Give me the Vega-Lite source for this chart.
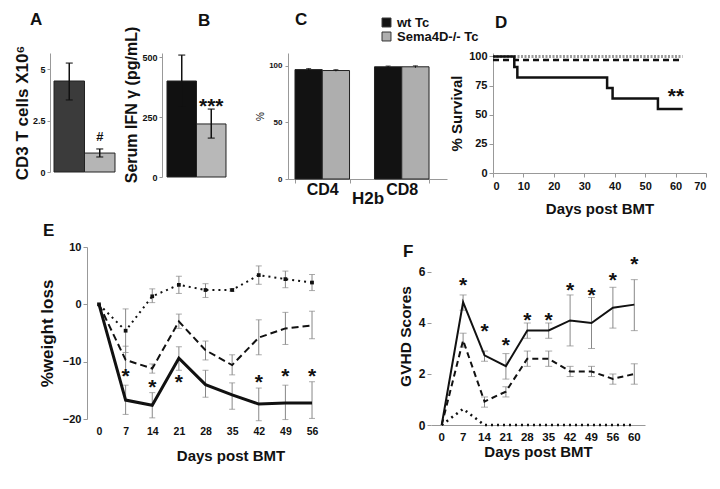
{
  "$schema": "https://vega.github.io/schema/vega-lite/v6.json",
  "autosize": {"type": "pad"},
  "padding": {"left": 13, "top": 10, "right": 5, "bottom": 5},
  "background": "white",
  "spacing": 5,
  "datasets": {
    "survWt": [{"day":0,"pct":100},{"day":7,"pct":91},{"day":8,"pct":82},{"day":37.5,"pct":73},{"day":39.3,"pct":64},{"day":54.2,"pct":55},{"day":62.3,"pct":55}],
    "survKo": [{"day":0,"pct":97},{"day":62.3,"pct":97}],
    "survCtrl": [{"day":0,"pct":100},{"day":62.3,"pct":100}],
    "weight": [
      {"day":0,"series":"wt","value":0},
      {"day":7,"series":"wt","value":-16.7,"lo":-19.2,"hi":-14.1},
      {"day":14,"series":"wt","value":-17.6,"lo":-19.8,"hi":-15.4},
      {"day":21,"series":"wt","value":-9.4,"lo":-11.5,"hi":-7.4},
      {"day":28,"series":"wt","value":-14.0,"lo":-16.2,"hi":-11.5},
      {"day":35,"series":"wt","value":-15.8,"lo":-18.3,"hi":-13.7},
      {"day":42,"series":"wt","value":-17.4,"lo":-20.3,"hi":-14.6},
      {"day":49,"series":"wt","value":-17.2,"lo":-20.1,"hi":-14.1},
      {"day":56,"series":"wt","value":-17.2,"lo":-19.9,"hi":-13.5},
      {"day":0,"series":"ko","value":0},
      {"day":7,"series":"ko","value":-9.7,"lo":-12.3,"hi":-7.3},
      {"day":14,"series":"ko","value":-11.2,"lo":-12.0,"hi":-10.4},
      {"day":21,"series":"ko","value":-3.0,"lo":-4.2,"hi":-1.7},
      {"day":28,"series":"ko","value":-8.0,"lo":-9.7,"hi":-6.4},
      {"day":35,"series":"ko","value":-10.6,"lo":-12.3,"hi":-8.8},
      {"day":42,"series":"ko","value":-5.8,"lo":-8.8,"hi":-2.7},
      {"day":49,"series":"ko","value":-4.2,"lo":-7.0,"hi":-1.4},
      {"day":56,"series":"ko","value":-3.7,"lo":-6.0,"hi":-1.2},
      {"day":0,"series":"ctrl","value":0},
      {"day":7,"series":"ctrl","value":-4.6,"lo":-8.4,"hi":-0.8},
      {"day":14,"series":"ctrl","value":1.4,"lo":0.3,"hi":2.7},
      {"day":21,"series":"ctrl","value":3.4,"lo":1.9,"hi":4.9},
      {"day":28,"series":"ctrl","value":2.5,"lo":1.2,"hi":3.6},
      {"day":35,"series":"ctrl","value":2.5,"lo":2.3,"hi":2.7},
      {"day":42,"series":"ctrl","value":5.1,"lo":3.5,"hi":6.7},
      {"day":49,"series":"ctrl","value":4.4,"lo":2.9,"hi":5.8},
      {"day":56,"series":"ctrl","value":3.8,"lo":2.4,"hi":5.2}
    ],
    "weightStars": [{"day":7,"y":-11.7},{"day":14,"y":-13.5},{"day":21,"y":-12.6},{"day":42,"y":-12.6},{"day":49,"y":-11.7},{"day":56,"y":-11.7}],
    "gvhd": [
      {"day":0,"series":"wt","value":0},
      {"day":7,"series":"wt","value":4.82,"lo":4.5,"hi":5.1},
      {"day":14,"series":"wt","value":2.73,"lo":2.5,"hi":2.9},
      {"day":21,"series":"wt","value":2.31,"lo":1.8,"hi":2.8},
      {"day":28,"series":"wt","value":3.71,"lo":3.4,"hi":4.0},
      {"day":35,"series":"wt","value":3.71,"lo":3.4,"hi":4.0},
      {"day":42,"series":"wt","value":4.1,"lo":3.1,"hi":5.1},
      {"day":49,"series":"wt","value":4.0,"lo":3.0,"hi":5.0},
      {"day":56,"series":"wt","value":4.6,"lo":3.8,"hi":5.4},
      {"day":60,"series":"wt","value":4.72,"lo":3.7,"hi":5.7},
      {"day":0,"series":"ko","value":0},
      {"day":7,"series":"ko","value":3.32,"lo":3.05,"hi":3.6},
      {"day":14,"series":"ko","value":0.92,"lo":0.7,"hi":1.1},
      {"day":21,"series":"ko","value":1.31,"lo":1.1,"hi":1.5},
      {"day":28,"series":"ko","value":2.6,"lo":2.3,"hi":2.9},
      {"day":35,"series":"ko","value":2.6,"lo":2.3,"hi":2.9},
      {"day":42,"series":"ko","value":2.1,"lo":1.9,"hi":2.3},
      {"day":49,"series":"ko","value":2.1,"lo":1.9,"hi":2.3},
      {"day":56,"series":"ko","value":1.81,"lo":1.6,"hi":2.0},
      {"day":60,"series":"ko","value":2.0,"lo":1.6,"hi":2.4},
      {"day":0,"series":"ctrl","value":0},
      {"day":7,"series":"ctrl","value":0.63},
      {"day":14,"series":"ctrl","value":0},
      {"day":21,"series":"ctrl","value":0},
      {"day":28,"series":"ctrl","value":0},
      {"day":35,"series":"ctrl","value":0},
      {"day":42,"series":"ctrl","value":0},
      {"day":49,"series":"ctrl","value":0},
      {"day":56,"series":"ctrl","value":0},
      {"day":60,"series":"ctrl","value":0}
    ],
    "gvhdStars": [{"day":7,"y":5.67},{"day":14,"y":3.88},{"day":21,"y":3.32},{"day":28,"y":4.33},{"day":35,"y":4.33},{"day":42,"y":5.48},{"day":49,"y":5.28},{"day":56,"y":5.9},{"day":60,"y":6.49}]
  },
  "vconcat": [
    {
      "hconcat": [
        {
          "width": 66, "height": 119,
          "title": {"text": "A", "dx": -20, "offset": 16.5},
          "data": {"values": [
            {"group":"wt Tc","cells":4.42,"lo":3.5,"hi":5.29},
            {"group":"Sema4D-/- Tc","cells":0.92,"lo":0.73,"hi":1.12}
          ]},
          "encoding": {"x": {"field":"group","type":"nominal","sort":["wt Tc","Sema4D-/- Tc"],"axis":null,"scale":{"paddingInner":0,"paddingOuter":0.082,"align":0.8}}},
          "layer": [
            {"mark": {"type":"bar","stroke":"#222","strokeWidth":1},
             "encoding": {
               "y": {"field":"cells","type":"quantitative","scale":{"domain":[0,5.78],"nice":false},
                     "axis":{"values":[0,2.5,5],"format":".1~f","title":"CD3 T cells X10⁶","titleFontSize":17,"labelFontSize":9,"tickSize":3,"labelPadding":2,"titlePadding":1}},
               "color": {"field":"group","type":"nominal","scale":{"domain":["wt Tc","Sema4D-/- Tc"],"range":["#3b3b3b","#b5b5b5"]},"legend":null}}},
            {"mark": {"type":"rule","color":"#111","strokeWidth":1.5},
             "encoding": {"y":{"field":"lo","type":"quantitative","scale":{"domain":[0,5.78],"nice":false}},"y2":{"field":"hi"}}},
            {"mark": {"type":"tick","orient":"horizontal","color":"#111","size":7,"thickness":1.5},
             "encoding": {"y":{"field":"lo","type":"quantitative","scale":{"domain":[0,5.78],"nice":false}}}},
            {"mark": {"type":"tick","orient":"horizontal","color":"#111","size":7,"thickness":1.5},
             "encoding": {"y":{"field":"hi","type":"quantitative","scale":{"domain":[0,5.78],"nice":false}}}},
            {"data": {"values": [{"group":"Sema4D-/- Tc","pos":1.72,"label":"#"}]},
             "mark": {"type":"text","fontSize":13,"fontWeight":"bold","baseline":"alphabetic","dy":4.5,"color":"#111"},
             "encoding": {"y":{"field":"pos","type":"quantitative","scale":{"domain":[0,5.78],"nice":false}},"text":{"field":"label"}}}
          ]
        },
        {
          "width": 80, "height": 124,
          "title": {"text": "B", "dx": 36, "offset": -3.5},
          "data": {"values": [
            {"group":"wt Tc","ifn":400,"lo":292,"hi":508},
            {"group":"Sema4D-/- Tc","ifn":221,"lo":162,"hi":283}
          ]},
          "encoding": {"x": {"field":"group","type":"nominal","sort":["wt Tc","Sema4D-/- Tc"],"axis":null,"scale":{"paddingInner":0,"paddingOuter":0.356,"align":0.238}}},
          "layer": [
            {"mark": {"type":"bar","stroke":"#222","strokeWidth":1},
             "encoding": {
               "y": {"field":"ifn","type":"quantitative","scale":{"domain":[0,516.7],"nice":false},
                     "axis":{"values":[0,250,500],"title":"Serum IFN γ (pg/mL)","titleFontSize":16,"labelFontSize":9,"tickSize":3,"labelPadding":2,"titlePadding":2,"titleY":51.5}},
               "color": {"field":"group","type":"nominal","scale":{"domain":["wt Tc","Sema4D-/- Tc"],"range":["#111111","#b8b8b8"]},"legend":null}}},
            {"mark": {"type":"rule","color":"#111","strokeWidth":1.5},
             "encoding": {"y":{"field":"lo","type":"quantitative","scale":{"domain":[0,516.7],"nice":false}},"y2":{"field":"hi"}}},
            {"mark": {"type":"tick","orient":"horizontal","color":"#111","size":7,"thickness":1.5},
             "encoding": {"y":{"field":"lo","type":"quantitative","scale":{"domain":[0,516.7],"nice":false}}}},
            {"mark": {"type":"tick","orient":"horizontal","color":"#111","size":7,"thickness":1.5},
             "encoding": {"y":{"field":"hi","type":"quantitative","scale":{"domain":[0,516.7],"nice":false}}}},
            {"data": {"values": [{"group":"Sema4D-/- Tc","pos":317,"label":"***"}]},
             "mark": {"type":"text","fontSize":21,"fontWeight":"bold","baseline":"alphabetic","dy":12,"color":"#111"},
             "encoding": {"y":{"field":"pos","type":"quantitative","scale":{"domain":[0,516.7],"nice":false}},"text":{"field":"label"}}}
          ]
        },
        {
          "width": 159, "height": 126,
          "title": {"text": "C", "dx": 7, "offset": -13},
          "data": {"values": [
            {"subset":"CD4","group":"wt Tc","pct":96.8,"lo":95.8,"hi":97.8},
            {"subset":"CD4","group":"Sema4D-/- Tc","pct":96.0,"lo":95.3,"hi":96.8},
            {"subset":"CD8","group":"wt Tc","pct":99.3,"lo":98.5,"hi":100.0},
            {"subset":"CD8","group":"Sema4D-/- Tc","pct":99.3,"lo":98.4,"hi":100.2}
          ]},
          "encoding": {
            "x": {"field":"subset","type":"nominal","scale":{"paddingInner":0.314,"paddingOuter":0.157,"align":0.28},
                  "axis":{"title":"H2b","titleFontSize":17,"labelFontSize":16,"labelAngle":0,"tickSize":4,"tickBand":"extent","labelPadding":-2,"titlePadding":-7}},
            "xOffset": {"field":"group","type":"nominal","sort":["wt Tc","Sema4D-/- Tc"],"scale":{"paddingInner":0,"paddingOuter":0}}
          },
          "layer": [
            {"mark": {"type":"bar","stroke":"#222","strokeWidth":1},
             "encoding": {
               "y": {"field":"pct","type":"quantitative","scale":{"domain":[0,111.5],"nice":false},
                     "axis":{"values":[0,25,50,75,100],"title":"%","titleFontSize":10,"titleFontWeight":"normal","labelFontSize":8,"tickSize":3,"labelPadding":3,"titlePadding":3}},
               "color": {"field":"group","type":"nominal","sort":["wt Tc","Sema4D-/- Tc"],
                         "scale":{"domain":["wt Tc","Sema4D-/- Tc"],"range":["#121212","#aeaeae"]},
                         "legend":{"orient":"none","legendX":92,"legendY":-37,"title":null,"symbolType":"square","symbolSize":80,"symbolStrokeColor":"#333","symbolStrokeWidth":1,"labelFontSize":13,"labelFontWeight":"bold","labelColor":"#111","rowPadding":0,"labelOffset":4,"padding":0}}}},
            {"mark": {"type":"rule","color":"#111","strokeWidth":1},
             "encoding": {"y":{"field":"lo","type":"quantitative","scale":{"domain":[0,111.5],"nice":false}},"y2":{"field":"hi"}}},
            {"mark": {"type":"tick","orient":"horizontal","color":"#111","size":5,"thickness":1},
             "encoding": {"y":{"field":"hi","type":"quantitative","scale":{"domain":[0,111.5],"nice":false}}}}
          ]
        },
        {
          "width": 213, "height": 120,
          "title": {"text": "D", "dx": 2, "offset": 18},
          "encoding": {
            "x": {"field":"day","type":"quantitative","scale":{"domain":[0,70],"nice":false},
                  "axis":{"values":[0,10,20,30,40,50,60,70],"title":"Days post BMT","titleFontSize":15,"labelFontSize":11,"tickSize":4,"labelPadding":3,"titlePadding":10}},
            "y": {"field":"pct","type":"quantitative","scale":{"domain":[0,103],"nice":false},
                  "axis":{"values":[0,25,50,75,100],"title":"% Survival","titleFontSize":15,"labelFontSize":11,"tickSize":4,"labelPadding":2,"titlePadding":4}}
          },
          "layer": [
            {"data": {"name":"survCtrl"}, "mark": {"type":"line","interpolate":"step-after","color":"#999","strokeWidth":3,"strokeDash":[2,1.5]}},
            {"data": {"name":"survKo"}, "mark": {"type":"line","interpolate":"step-after","color":"#111","strokeWidth":2.5,"strokeDash":[6,4]}},
            {"data": {"name":"survWt"}, "mark": {"type":"line","interpolate":"step-after","color":"#111","strokeWidth":2.5}},
            {"data": {"values":[{"day":60.1,"pct":70.4,"label":"**"}]},
             "mark": {"type":"text","fontSize":21,"fontWeight":"bold","baseline":"alphabetic","dy":12,"color":"#111"},
             "encoding": {"text":{"field":"label"}}}
          ]
        }
      ],
      "spacing": 46,
      "bounds": "flush",
      "resolve": {"scale": {"color": "independent"}, "legend": {"color": "independent"}}
    },
    {
      "hconcat": [
        {
          "width": 361, "height": 172,
          "title": {"text": "E", "dx": -7, "offset": 1.5},
          "layer": [
            {"mark": {"type":"rule","color":"#999","strokeWidth":1},
             "encoding": {
               "x": {"datum": -3.15, "type":"quantitative","scale":{"domain":[-12.88,82.02],"nice":false},
                     "axis":{"values":[0,7,14,21,28,35,42,49,56],"domain":false,"ticks":false,"title":"Days post BMT","titleFontSize":15,"labelFontSize":10.5,"labelPadding":7,"titlePadding":12}},
               "x2": {"datum": 59.4},
               "y": {"datum": 0, "type":"quantitative","scale":{"domain":[-20,10],"nice":false},
                     "axis":{"values":[-20,-15,-10,-5,0,5,10],"title":"%weight loss","titleFontSize":17,"labelFontSize":11,"tickSize":4,"labelPadding":2,"titlePadding":6,"offset":-37}}}},
            {"data": {"name":"weight"},
             "mark": {"type":"rule","color":"#888","strokeWidth":1},
             "encoding": {"x":{"field":"day","type":"quantitative"},"y":{"field":"lo","type":"quantitative"},"y2":{"field":"hi"}}},
            {"data": {"name":"weight"},
             "mark": {"type":"tick","orient":"horizontal","color":"#888","size":6,"thickness":1},
             "encoding": {"x":{"field":"day","type":"quantitative"},"y":{"field":"lo","type":"quantitative"}}},
            {"data": {"name":"weight"},
             "mark": {"type":"tick","orient":"horizontal","color":"#888","size":6,"thickness":1},
             "encoding": {"x":{"field":"day","type":"quantitative"},"y":{"field":"hi","type":"quantitative"}}},
            {"data": {"name":"weight"}, "transform": [{"filter":"datum.series === 'ctrl'"}],
             "mark": {"type":"line","color":"#111","strokeWidth":2,"strokeDash":[2,4],"point":{"shape":"square","size":14,"filled":true,"color":"#111"}},
             "encoding": {"x":{"field":"day","type":"quantitative"},"y":{"field":"value","type":"quantitative"}}},
            {"data": {"name":"weight"}, "transform": [{"filter":"datum.series === 'ko'"}],
             "mark": {"type":"line","color":"#111","strokeWidth":2,"strokeDash":[7,4]},
             "encoding": {"x":{"field":"day","type":"quantitative"},"y":{"field":"value","type":"quantitative"}}},
            {"data": {"name":"weight"}, "transform": [{"filter":"datum.series === 'wt'"}],
             "mark": {"type":"line","color":"#111","strokeWidth":3},
             "encoding": {"x":{"field":"day","type":"quantitative"},"y":{"field":"value","type":"quantitative"}}},
            {"data": {"name":"weightStars"},
             "mark": {"type":"text","text":"*","fontSize":21,"fontWeight":"bold","baseline":"alphabetic","dy":12,"color":"#111"},
             "encoding": {"x":{"field":"day","type":"quantitative"},"y":{"field":"y","type":"quantitative"}}}
          ]
        },
        {
          "width": 214, "height": 178,
          "title": {"text": "F", "dx": -28, "offset": -14},
          "layer": [
            {"mark": {"type":"rule","color":"#999","strokeWidth":1},
             "encoding": {
               "x": {"datum": 0, "type":"ordinal","bandPosition":0,"scale":{"domain":[0,7,14,21,28,35,42,49,56,60],"paddingInner":0,"paddingOuter":0},
                     "axis":{"domain":true,"ticks":false,"labelAngle":0,"title":"Days post BMT","titleFontSize":15,"labelFontSize":11.5,"labelPadding":6,"titlePadding":2}},
               "y": {"datum": 0, "type":"quantitative","scale":{"domain":[0,6.98],"nice":false},
                     "axis":{"values":[0,1,2,3,4,5,6],"domain":false,"title":"GVHD Scores","titleFontSize":15.5,"labelFontSize":12,"tickSize":4,"labelPadding":2,"titlePadding":5}},
               "y2": {"datum": 6}}},
            {"data": {"name":"gvhd"},
             "mark": {"type":"rule","color":"#888","strokeWidth":1},
             "encoding": {"x":{"field":"day","type":"ordinal","bandPosition":0.5},"y":{"field":"lo","type":"quantitative"},"y2":{"field":"hi"}}},
            {"data": {"name":"gvhd"},
             "mark": {"type":"tick","orient":"horizontal","color":"#888","size":7,"thickness":1},
             "encoding": {"x":{"field":"day","type":"ordinal","bandPosition":0.5},"y":{"field":"lo","type":"quantitative"}}},
            {"data": {"name":"gvhd"},
             "mark": {"type":"tick","orient":"horizontal","color":"#888","size":7,"thickness":1},
             "encoding": {"x":{"field":"day","type":"ordinal","bandPosition":0.5},"y":{"field":"hi","type":"quantitative"}}},
            {"data": {"name":"gvhd"}, "transform": [{"filter":"datum.series === 'ctrl'"}],
             "mark": {"type":"line","color":"#111","strokeWidth":2.5,"strokeDash":[2,4]},
             "encoding": {"x":{"field":"day","type":"ordinal","bandPosition":0.5},"y":{"field":"value","type":"quantitative"}}},
            {"data": {"name":"gvhd"}, "transform": [{"filter":"datum.series === 'ko'"}],
             "mark": {"type":"line","color":"#111","strokeWidth":2,"strokeDash":[6,4]},
             "encoding": {"x":{"field":"day","type":"ordinal","bandPosition":0.5},"y":{"field":"value","type":"quantitative"}}},
            {"data": {"name":"gvhd"}, "transform": [{"filter":"datum.series === 'wt'"}],
             "mark": {"type":"line","color":"#111","strokeWidth":2},
             "encoding": {"x":{"field":"day","type":"ordinal","bandPosition":0.5},"y":{"field":"value","type":"quantitative"}}},
            {"data": {"name":"gvhdStars"},
             "mark": {"type":"text","text":"*","fontSize":21,"fontWeight":"bold","baseline":"alphabetic","dy":12,"color":"#111"},
             "encoding": {"x":{"field":"day","type":"ordinal","bandPosition":0.5},"y":{"field":"y","type":"quantitative"}}}
          ]
        }
      ],
      "spacing": 20,
      "bounds": "flush"
    }
  ],
  "config": {
    "font": "Liberation Sans",
    "view": {"stroke": null},
    "axis": {"labelFontWeight": "bold", "titleFontWeight": "bold", "labelColor": "#111", "titleColor": "#111", "domainColor": "#999", "tickColor": "#999", "grid": false, "labelFont": "Liberation Sans", "titleFont": "Liberation Sans"},
    "title": {"fontSize": 17, "fontWeight": "bold", "anchor": "start", "frame": "group", "baseline": "alphabetic", "color": "#111", "font": "Liberation Sans"},
    "legend": {"labelFont": "Liberation Sans"}
  }
}
